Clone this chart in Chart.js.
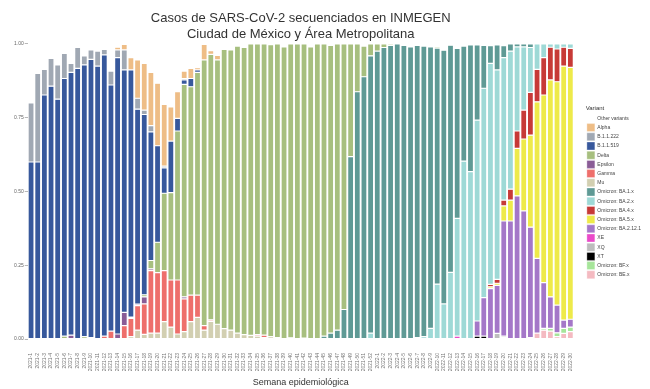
<!DOCTYPE html>
<html>
<head>
<meta charset="utf-8">
<script src="https://cdn.jsdelivr.net/npm/chart.js@4.4.0/dist/chart.umd.min.js"></script>
<style>
  html, body { margin: 0; padding: 0; background: #fff; }
  #wrap { width: 650px; height: 389px; }
</style>
</head>
<body>
<div id="wrap"><canvas id="chart"></canvas></div>
<script>
// semanas epidemiologicas
var weeks = [
  "2021-1","2021-2","2021-3","2021-4","2021-5","2021-6","2021-7","2021-8","2021-9","2021-10",
  "2021-11","2021-12","2021-13","2021-14","2021-15","2021-16","2021-17","2021-18","2021-19","2021-20",
  "2021-21","2021-22","2021-23","2021-24","2021-25","2021-26","2021-27","2021-28","2021-29","2021-30",
  "2021-31","2021-32","2021-33","2021-34","2021-35","2021-36","2021-37","2021-38","2021-39","2021-40",
  "2021-41","2021-42","2021-43","2021-44","2021-45","2021-46","2021-47","2021-48","2021-49","2021-50",
  "2021-51","2021-52","2022-1","2022-2","2022-3","2022-4","2022-5","2022-6","2022-7","2022-8",
  "2022-9","2022-10","2022-11","2022-12","2022-13","2022-14","2022-15","2022-16","2022-17","2022-18",
  "2022-19","2022-20","2022-21","2022-22","2022-23","2022-24","2022-25","2022-26","2022-27","2022-28",
  "2022-29","2022-30"
];

// proportion of sequenced cases per week, one array per variant
var otherVariants = [
  .2,.1,.086,.049,.071,.032,.066,.012,.04,.02,
  .024,.018,.092,.011,.001,.046,.054,.066,.096,.133,
  .205,.213,.162,.092,.083,.08,.001,.023,.039,.018,
  .02,.007,.012,0,0,0,.002,0,.01,0,
  0,0,.01,0,0,.005,0,0,0,0,
  .007,0,0,0,0,0,.005,.01,.005,.007,
  .01,.009,.021,.004,.015,.007,.003,.003,.005,.006,
  .003,.006,0,0,0,0,0,0,0,0,
  0,0
];
var alpha = [
  0,0,0,0,0,0,0,0,0,0,
  0,0,0,.009,.019,.042,.13,.158,.181,.212,
  .209,.116,.09,.025,.034,.008,.053,.012,.015,0,
  0,0,0,0,0,0,0,0,0,0,
  0,0,0,0,0,0,0,0,0,0,
  0,0,0,0,0,0,0,0,0,0,
  0,0,0,0,0,0,0,0,0,0,
  0,0,0,0,0,0,0,0,0,0,
  0,0
];
var b11222 = [
  .2,.3,.087,.094,.116,.085,.03,.071,.031,.032,
  .051,.019,.047,.026,.068,0,.037,.015,.021,0,
  .006,0,0,.005,0,0,0,0,0,0,
  0,0,0,0,0,0,0,0,0,0,
  0,0,0,0,0,0,0,0,0,0,
  0,0,0,0,0,0,0,0,0,0,
  0,0,0,0,0,0,0,0,0,0,
  0,0,0,0,0,0,0,0,0,0,
  0,0
];
var b11519 = [
  .6,.6,.827,.857,.813,.873,.891,.917,.921,.943,
  .925,.953,.834,.937,.822,.838,.661,.611,.436,.327,
  .086,.175,.043,.015,.028,.008,0,0,0,0,
  0,0,0,0,0,0,0,0,0,0,
  0,0,0,0,0,0,0,0,0,0,
  0,0,0,0,0,0,0,0,0,0,
  0,0,0,0,0,0,0,0,0,0,
  0,0,0,0,0,0,0,0,0,0,
  0,0
];
var delta = [
  0,0,0,0,0,.01,0,0,.008,0,
  0,0,0,0,0,0,0,.007,.028,.103,
  .262,.296,.505,.72,.706,.755,.901,.9,.896,.947,
  .95,.973,.973,.988,.985,.987,.99,.995,.99,.996,
  1,.997,.99,1,.99,.975,.97,.9,.382,.162,
  .104,.04,.024,.012,.005,0,0,0,0,0,
  0,.005,0,0,0,0,0,0,0,0,
  0,0,0,0,0,0,0,0,0,0,
  0,0
];
var epsilon = [
  0,0,0,0,0,0,.013,0,0,.005,
  0,0,0,.017,.045,.004,.005,.024,.006,0,
  0,0,0,.007,0,0,0,0,0,0,
  0,0,0,0,0,0,0,0,0,0,
  0,0,0,0,0,0,0,0,0,0,
  0,0,0,0,0,0,0,0,0,0,
  0,0,0,0,0,0,0,0,0,0,
  0,0,0,0,0,0,0,0,0,0,
  0,0
];
var gamma = [
  0,0,0,0,0,0,0,0,0,0,
  0,.01,.027,0,.045,.062,.083,.103,.212,.205,
  .173,.16,.183,.111,.09,.076,.015,.005,0,0,
  0,0,0,0,.005,.008,0,0,0,0,
  0,0,0,0,0,0,0,0,0,0,
  0,0,0,0,0,0,0,0,0,0,
  0,0,0,0,0,0,0,0,0,0,
  0,0,0,0,0,0,0,0,0,0,
  0,0
];
var mu = [
  0,0,0,0,0,0,0,0,0,0,
  0,0,0,0,0,.008,.03,.016,.02,.02,
  .059,.04,.017,.025,.059,.073,.03,.06,.05,.035,
  .03,.02,.015,.012,.01,.005,.008,.005,0,.004,
  0,.003,0,0,0,0,0,0,0,0,
  0,0,0,0,0,0,0,0,0,0,
  0,0,0,0,0,0,0,0,0,0,
  0,0,0,0,0,0,0,0,0,0,
  0,0
];
var ba1 = [
  0,0,0,0,0,0,0,0,0,0,
  0,0,0,0,0,0,0,0,0,0,
  0,0,0,0,0,0,0,0,0,0,
  0,0,0,0,0,0,0,0,0,0,
  0,0,0,0,.01,.02,.03,.1,.618,.838,
  .889,.94,.976,.988,.995,1,.995,.99,.99,.985,
  .954,.8,.86,.77,.576,.39,.43,.255,.145,.06,
  .085,.04,.024,.01,.01,.012,0,0,0,0,
  0,0
];
var ba2 = [
  0,0,0,0,0,0,0,0,0,0,
  0,0,0,0,0,0,0,0,0,0,
  0,0,0,0,0,0,0,0,0,0,
  0,0,0,0,0,0,0,0,0,0,
  0,0,0,0,0,0,0,0,0,0,
  0,.02,0,0,0,0,0,0,.005,.008,
  .036,.186,.119,.226,.399,.603,.567,.681,.71,.749,
  .71,.483,.468,.285,.214,.152,.086,.046,.011,.017,
  .011,.015
];
var ba4 = [
  0,0,0,0,0,0,0,0,0,0,
  0,0,0,0,0,0,0,0,0,0,
  0,0,0,0,0,0,0,0,0,0,
  0,0,0,0,0,0,0,0,0,0,
  0,0,0,0,0,0,0,0,0,0,
  0,0,0,0,0,0,0,0,0,0,
  0,0,0,0,0,0,0,0,0,.008,
  .013,.02,.037,.059,.098,.145,.11,.127,.111,.111,
  .064,.064
];
var ba5 = [
  0,0,0,0,0,0,0,0,0,0,
  0,0,0,0,0,0,0,0,0,0,
  0,0,0,0,0,0,0,0,0,0,
  0,0,0,0,0,0,0,0,0,0,
  0,0,0,0,0,0,0,0,0,0,
  0,0,0,0,0,0,0,0,0,0,
  0,0,0,0,0,0,0,0,0,.006,
  .007,.051,.071,.161,.244,.312,.531,.636,.735,.757,
  .861,.854
];
var ba2121 = [
  0,0,0,0,0,0,0,0,0,0,
  0,0,0,0,0,0,0,0,0,0,
  0,0,0,0,0,0,0,0,0,0,
  0,0,0,0,0,0,0,0,0,0,
  0,0,0,0,0,0,0,0,0,0,
  0,0,0,0,0,0,0,0,0,0,
  0,0,0,0,0,0,0,.051,.13,.171,
  .163,.39,.40,.485,.434,.374,.253,.155,.107,.094,
  .028,.027
];
var xe = [
  0,0,0,0,0,0,0,0,0,0,
  0,0,0,0,0,0,0,0,0,0,
  0,0,0,0,0,0,0,0,0,0,
  0,0,0,0,0,0,0,0,0,0,
  0,0,0,0,0,0,0,0,0,0,
  0,0,0,0,0,0,0,0,0,0,
  0,0,0,0,.01,0,0,0,0,0,
  0,0,0,0,0,0,0,0,0,0,
  0,0
];
var xq = [
  0,0,0,0,0,0,0,0,0,0,
  0,0,0,0,0,0,0,0,0,0,
  0,0,0,0,0,0,0,0,0,0,
  0,0,0,0,0,0,0,0,0,0,
  0,0,0,0,0,0,0,0,0,0,
  0,0,0,0,0,0,0,0,0,0,
  0,0,0,0,0,0,0,0,0,0,
  .019,.005,0,0,0,0,0,0,0,0,
  0,0
];
var xt = [
  0,0,0,0,0,0,0,0,0,0,
  0,0,0,0,0,0,0,0,0,0,
  0,0,0,0,0,0,0,0,0,0,
  0,0,0,0,0,0,0,0,0,0,
  0,0,0,0,0,0,0,0,0,0,
  0,0,0,0,0,0,0,0,0,0,
  0,0,0,0,0,0,0,.01,.01,0,
  0,.005,0,0,0,0,0,0,0,0,
  0,0
];
var bf = [
  0,0,0,0,0,0,0,0,0,0,
  0,0,0,0,0,0,0,0,0,0,
  0,0,0,0,0,0,0,0,0,0,
  0,0,0,0,0,0,0,0,0,0,
  0,0,0,0,0,0,0,0,0,0,
  0,0,0,0,0,0,0,0,0,0,
  0,0,0,0,0,0,0,0,0,0,
  0,0,0,0,0,0,0,.006,.009,.013,
  .017,.015
];
var be = [
  0,0,0,0,0,0,0,0,0,0,
  0,0,0,0,0,0,0,0,0,0,
  0,0,0,0,0,0,0,0,0,0,
  0,0,0,0,0,0,0,0,0,0,
  0,0,0,0,0,0,0,0,0,0,
  0,0,0,0,0,0,0,0,0,0,
  0,0,0,0,0,0,0,0,0,0,
  0,0,0,0,0,.005,.02,.03,.027,.008,
  .019,.025
];

var font = "'Liberation Sans', Arial, Helvetica, sans-serif";

// bottom of the stack first; legend is shown reversed
var series = [
  ["Omicron: BE.x", be, "#f4bac1"],
  ["Omicron: BF.x", bf, "#a6e59a"],
  ["XT", xt, "#000000"],
  ["XQ", xq, "#bdbdbd"],
  ["XE", xe, "#ea4ac9"],
  ["Omicron: BA.2.12.1", ba2121, "#a477c8"],
  ["Omicron: BA.5.x", ba5, "#eeea4a"],
  ["Omicron: BA.4.x", ba4, "#c73a37"],
  ["Omicron: BA.2.x", ba2, "#9ed9d6"],
  ["Omicron: BA.1.x", ba1, "#5f9a95"],
  ["Mu", mu, "#d2cfb1"],
  ["Gamma", gamma, "#ee6f6b"],
  ["Epsilon", epsilon, "#8a5c96"],
  ["Delta", delta, "#a7bf7f"],
  ["B.1.1.519", b11519, "#37589c"],
  ["B.1.1.222", b11222, "#a0a8b3"],
  ["Alpha", alpha, "#eebd86"],
  ["Other variants", otherVariants, "#ffffff"]
];

var datasets = series.map(function (s) {
  return {
    label: s[0],
    data: s[1],
    backgroundColor: s[2],
    borderColor: "rgba(255,255,255,0.55)",
    borderWidth: 0.6,
    borderSkipped: false,
    barPercentage: 0.9,
    categoryPercentage: 1.0
  };
});

// push the legend a bit away from the plot
var legendGap = {
  id: "legendGap",
  afterLayout: function (chart) {
    chart.legend.left += 12;
    chart.legend.right += 12;
  }
};

var chart = new Chart(document.getElementById("chart"), {
  type: "bar",
  data: { labels: weeks, datasets: datasets },
  plugins: [legendGap],
  options: {
    responsive: true,
    maintainAspectRatio: false,
    animation: false,
    layout: { padding: { left: 13, right: 11, top: 8, bottom: 0 } },
    plugins: {
      title: {
        display: true,
        fullSize: false,
        text: ["Casos de SARS-CoV-2 secuenciados en INMEGEN", "Ciudad de México y Área Metropolitana"],
        color: "#333",
        font: { family: font, size: 13, weight: "normal", lineHeight: 1.23 },
        padding: { top: 2, bottom: 2 }
      },
      legend: {
        position: "right",
        align: "start",
        reverse: true,
        title: {
          display: true,
          text: "Variant",
          position: "start",
          color: "#333",
          font: { family: font, size: 6 },
          padding: { top: 97, bottom: 1 }
        },
        labels: {
          boxWidth: 8,
          boxHeight: 8,
          padding: 1.2,
          color: "#444",
          font: { family: font, size: 5 }
        }
      },
      tooltip: { enabled: false }
    },
    scales: {
      x: {
        stacked: true,
        grid: { display: false, drawTicks: false },
        border: { display: false },
        afterFit: function (scale) { scale.height = 50; },
        ticks: {
          autoSkip: false,
          maxRotation: 90,
          minRotation: 90,
          padding: 14,
          color: "#777",
          font: { family: font, size: 5 }
        },
        title: {
          display: true,
          text: "Semana epidemiológica",
          color: "#333",
          font: { family: font, size: 9 },
          padding: { top: 4, bottom: 1 }
        }
      },
      y: {
        stacked: true,
        min: 0,
        max: 1,
        border: { display: false },
        grid: { display: true, drawOnChartArea: false, tickLength: 3, color: "#888", lineWidth: 0.6 },
        ticks: {
          stepSize: 0.25,
          padding: 1,
          color: "#666",
          font: { family: font, size: 5 },
          callback: function (v) { return v.toFixed(2); }
        }
      }
    }
  }
});
</script>
</body>
</html>
